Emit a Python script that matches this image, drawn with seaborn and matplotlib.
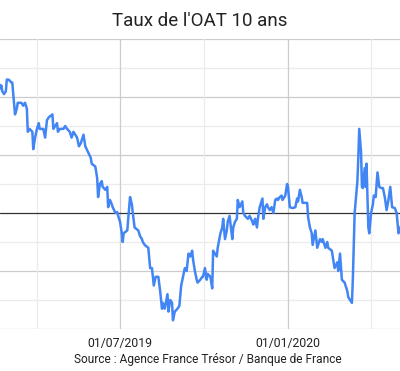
import pandas as pd
import matplotlib
matplotlib.use('Agg')
import matplotlib.pyplot as plt
import matplotlib.dates as mdates
import seaborn as sns

# Données (taux en %)
dates = [
    "2019-02-18", "2019-02-20", "2019-02-21", "2019-02-22", "2019-02-24", "2019-02-26", "2019-02-27",
    "2019-03-01", "2019-03-04", "2019-03-05", "2019-03-08", "2019-03-10", "2019-03-11", "2019-03-15",
    "2019-03-17", "2019-03-19", "2019-03-21", "2019-03-22", "2019-03-24", "2019-03-27", "2019-03-28",
    "2019-03-30", "2019-04-01", "2019-04-03", "2019-04-04", "2019-04-08", "2019-04-10", "2019-04-12",
    "2019-04-14", "2019-04-18", "2019-04-19", "2019-04-21", "2019-04-23", "2019-04-24", "2019-04-26",
    "2019-04-30", "2019-05-02", "2019-05-04", "2019-05-07", "2019-05-09", "2019-05-11", "2019-05-15",
    "2019-05-17", "2019-05-19", "2019-05-22", "2019-05-24", "2019-05-27", "2019-05-30", "2019-05-31",
    "2019-06-04", "2019-06-06", "2019-06-07", "2019-06-09", "2019-06-11", "2019-06-12", "2019-06-15",
    "2019-06-17", "2019-06-18", "2019-06-20", "2019-06-22", "2019-06-23", "2019-06-26", "2019-06-28",
    "2019-06-29", "2019-07-01", "2019-07-03", "2019-07-04", "2019-07-05", "2019-07-09", "2019-07-10",
    "2019-07-12", "2019-07-14", "2019-07-15", "2019-07-17", "2019-07-21", "2019-07-23", "2019-07-25",
    "2019-07-26", "2019-07-28", "2019-08-01", "2019-08-03", "2019-08-05", "2019-08-07", "2019-08-09",
    "2019-08-12", "2019-08-14", "2019-08-16", "2019-08-17", "2019-08-19", "2019-08-22", "2019-08-23",
    "2019-08-25", "2019-08-27", "2019-08-28", "2019-08-30", "2019-09-02", "2019-09-04", "2019-09-06",
    "2019-09-08", "2019-09-10", "2019-09-12", "2019-09-14", "2019-09-16", "2019-09-18", "2019-09-19",
    "2019-09-21", "2019-09-23", "2019-09-24", "2019-09-27", "2019-09-29", "2019-09-30", "2019-10-02",
    "2019-10-04", "2019-10-05", "2019-10-08", "2019-10-10", "2019-10-11", "2019-10-13", "2019-10-15",
    "2019-10-16", "2019-10-19", "2019-10-21", "2019-10-22", "2019-10-24", "2019-10-26", "2019-10-27",
    "2019-10-29", "2019-11-01", "2019-11-02", "2019-11-04", "2019-11-06", "2019-11-07", "2019-11-09",
    "2019-11-12", "2019-11-13", "2019-11-15", "2019-11-18", "2019-11-20", "2019-11-23", "2019-11-24",
    "2019-11-26", "2019-11-28", "2019-11-29", "2019-12-01", "2019-12-04", "2019-12-05", "2019-12-07",
    "2019-12-09", "2019-12-10", "2019-12-12", "2019-12-14", "2019-12-16", "2019-12-18", "2019-12-20",
    "2019-12-21", "2019-12-23", "2019-12-25", "2019-12-26", "2019-12-29", "2019-12-31", "2020-01-01",
    "2020-01-03", "2020-01-06", "2020-01-09", "2020-01-11", "2020-01-12", "2020-01-14", "2020-01-16",
    "2020-01-17", "2020-01-22", "2020-01-23", "2020-01-25", "2020-01-27", "2020-01-28", "2020-01-31",
    "2020-02-02", "2020-02-03", "2020-02-05", "2020-02-07", "2020-02-08", "2020-02-11", "2020-02-13",
    "2020-02-14", "2020-02-18", "2020-02-19", "2020-02-21", "2020-02-24", "2020-02-25", "2020-02-27",
    "2020-02-29", "2020-03-03", "2020-03-06", "2020-03-07", "2020-03-09", "2020-03-11", "2020-03-12",
    "2020-03-14", "2020-03-17", "2020-03-18", "2020-03-19", "2020-03-21", "2020-03-22", "2020-03-23",
    "2020-03-25", "2020-03-26", "2020-03-27", "2020-03-29", "2020-03-30", "2020-04-01", "2020-04-03",
    "2020-04-04", "2020-04-06", "2020-04-08", "2020-04-10", "2020-04-12", "2020-04-14", "2020-04-16",
    "2020-04-18", "2020-04-20", "2020-04-22", "2020-04-24", "2020-04-27", "2020-04-29", "2020-05-01",
    "2020-05-03", "2020-05-06",
]
taux = [
    0.45, 0.43, 0.44, 0.42, 0.41, 0.42, 0.46,
    0.46, 0.45, 0.45, 0.34, 0.36, 0.38, 0.38,
    0.37, 0.38, 0.36, 0.28, 0.29, 0.28, 0.22,
    0.26, 0.29, 0.31, 0.29, 0.29, 0.26, 0.32,
    0.33, 0.34, 0.29, 0.30, 0.31, 0.28, 0.29,
    0.29, 0.30, 0.29, 0.28, 0.26, 0.28, 0.26,
    0.23, 0.24, 0.27, 0.23, 0.21, 0.19, 0.17,
    0.16, 0.12, 0.055, 0.10, 0.11, 0.09, 0.08,
    0.09, 0.02, 0.045, 0.03, 0.02, 0.0, 0.003,
    -0.01, -0.03, -0.07, -0.10, -0.07, -0.06, -0.02,
    0.055, 0.03, 0.0, -0.05, -0.06, -0.08, -0.09,
    -0.10, -0.11, -0.12, -0.19, -0.19, -0.25, -0.22,
    -0.22, -0.27, -0.33, -0.31, -0.33, -0.28, -0.34,
    -0.30, -0.31, -0.37, -0.34, -0.33, -0.32, -0.25,
    -0.22, -0.19, -0.20, -0.14, -0.15, -0.13, -0.16,
    -0.20, -0.23, -0.24, -0.23, -0.22, -0.22, -0.19,
    -0.23, -0.21, -0.22, -0.26, -0.13, -0.14, -0.15,
    -0.12, -0.07, -0.05, -0.02, -0.09, -0.06, -0.03,
    -0.01, -0.09, -0.05, -0.03, -0.02, 0.045, 0.02,
    0.04, 0.0, -0.01, -0.02, -0.01, -0.03, -0.04,
    -0.02, -0.05, -0.02, 0.02, 0.05, -0.02, 0.02,
    0.03, 0.02, 0.01, 0.02, 0.0, 0.045, 0.05,
    0.045, 0.055, 0.06, 0.045, 0.06, 0.10, 0.09,
    0.02, 0.017, 0.02, 0.05, 0.04, 0.08, 0.055,
    0.035, 0.035, -0.014, -0.05, -0.07, -0.11, -0.06,
    -0.12, -0.11, -0.09, -0.10, -0.09, -0.12, -0.10,
    -0.12, -0.13, -0.15, -0.19, -0.17, -0.20, -0.14,
    -0.23, -0.24, -0.27, -0.29, -0.30, -0.31, -0.23,
    0.0, 0.11, 0.19, 0.29, 0.21, 0.09, 0.086,
    0.155, 0.09, 0.17, -0.05, -0.07, 0.0, 0.03,
    0.06, 0.055, 0.14, 0.09, 0.086, 0.086, 0.055,
    0.01, 0.045, 0.09, 0.02, 0.017, 0.0, -0.07,
    -0.05, -0.03,
]
ticks_majeurs = ["2019-07-01", "2020-01-01"]
ticks_mineurs = ["2019-04-01", "2019-10-01", "2020-04-01"]
etiquettes = ["01/07/2019", "01/01/2020"]

df = pd.DataFrame({'date': pd.to_datetime(dates), 'taux': taux})

sns.set_theme(style="white")
plt.rcParams['font.family'] = ['Roboto', 'DejaVu Sans']

fig = plt.figure(figsize=(4.0, 3.71), dpi=100)
# zone du graphique coupée à gauche et à droite comme sur l'original
ax = fig.add_axes([0, 1 - 329 / 371, 1, 290 / 371])

ax.set_ylim(-0.4, 0.6)
for v in [-0.3, -0.1, 0.1, 0.3, 0.5]:
    ax.axhline(v, color='#ebebeb', lw=0.9, zorder=0)
for v in [-0.4, -0.2, 0.2, 0.4, 0.6]:
    ax.axhline(v, color='#cccccc', lw=0.9, zorder=0)
for d in ticks_mineurs:
    ax.axvline(pd.Timestamp(d), color='#ebebeb', lw=0.9, zorder=0)
for d in ticks_majeurs:
    ax.axvline(pd.Timestamp(d), color='#cccccc', lw=0.9, zorder=0)
ax.axhline(0, color='#333333', lw=0.9, zorder=1)

sns.lineplot(data=df, x='date', y='taux', ax=ax, color='#4285f4', lw=1.8, zorder=3)

# échelle : 168 px pour 184 jours, 01/07/2019 à 120 px
ref = mdates.date2num(pd.Timestamp("2019-07-01"))
jours_par_px = 184 / 168
ax.set_xlim(ref - 120 * jours_par_px, ref + 280 * jours_par_px)

ax.set_xticks([pd.Timestamp(d) for d in ticks_majeurs])
ax.set_xticklabels(etiquettes, fontsize=8.8, color='#222222')
ax.set_yticks([])
ax.tick_params(axis='x', length=0, pad=6)
ax.set_xlabel('')
ax.set_ylabel('')
for s in ax.spines.values():
    s.set_visible(False)

fig.text(0.5, 1 - 21 / 371, "Taux de l'OAT 10 ans", ha='center', va='center',
         fontsize=13.5, color='#222222')
fig.text(208 / 400, 1 - 359 / 371, "Source : Agence France Trésor / Banque de France",
         ha='center', va='center', fontsize=8.6, color='#222222')

fig.savefig('out.png', dpi=100)
